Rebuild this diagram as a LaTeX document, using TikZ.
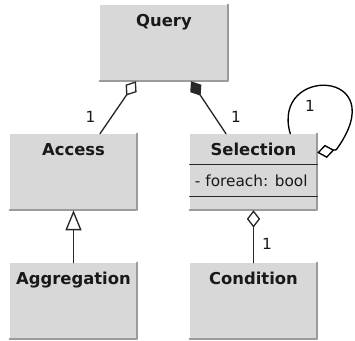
\documentclass[tikz,border=0pt]{standalone}
\usepackage{fontspec}
\setmainfont{DejaVu Sans}
\usetikzlibrary{arrows.meta,calc}
\definecolor{classfill}{RGB}{216,216,216}
\definecolor{classedge}{RGB}{155,155,155}
\definecolor{umlline}{RGB}{40,40,40}
\begin{document}
\begin{tikzpicture}[x=0.75pt,y=-0.75pt, line join = round, line cap = round,
  classbox/.style={fill=classfill, minimum width=95.25pt, minimum height=57pt, inner sep=0pt},
  classname/.style={anchor=base, inner sep=0pt, text=black!90, font=\fontsize{12.3}{14}\selectfont\bfseries},
  mult/.style={inner sep=0pt, text=black!90, font=\fontsize{11.5}{13}\selectfont},
  assoc/.style={draw=umlline, line width=1pt},
  hollowdiamond/.style={-{Diamond[open,length=13pt,width=10pt]}},
  fulldiamond/.style={-{Diamond[length=13pt,width=10pt]}}]
\useasboundingbox (0,0) rectangle (355,341);
% classes
\node[classbox, minimum width=96pt] (query) at (164,43) {};
\node[classbox] (access) at (73.5,172) {};
\node[classbox] (selection) at (253.5,172) {};
\node[classbox] (aggregation) at (73.5,301) {};
\node[classbox] (condition) at (253.5,301) {};
\foreach \c in {query,access,selection,aggregation,condition}
  \draw[classedge, line width=1.5pt] (\c.north east) -- (\c.south east) -- (\c.south west);
\node[classname] (queryname) at ($(query.north)+(0,22)$) {Query};
\node[classname] (accessname) at ($(access.north)+(0,21.5)$) {Access};
\node[classname] (selectionname) at ($(selection.north)+(0,21.5)$) {Selection};
\node[classname] (aggregationname) at ($(aggregation.north)+(0,21.5)$) {Aggregation};
\node[classname] (conditionname) at ($(condition.north)+(0,21.5)$) {Condition};
% attribute compartment of Selection
\draw[umlline, line width=1pt] ($(selection.north west)+(0,31)$) -- ($(selection.north east)+(0,31)$);
\draw[umlline, line width=1pt] ($(selection.north west)+(0,63)$) -- ($(selection.north east)+(0,63)$);
\node[mult, anchor=base west] (foreach) at ($(selection.north west)+(5,52.5)$) {- foreach: bool};
% relations
\draw[assoc, hollowdiamond] ($(access.north)+(26.5,0)$) -- ($(query.south)+(-28,0)$);
\draw[assoc, fulldiamond] ($(selection.north)+(-27.5,0)$) -- ($(query.south)+(27,0)$);
\draw[assoc, -{Triangle[open,length=15pt,width=12pt]}] (aggregation.north) -- (access.south);
\draw[assoc, hollowdiamond] (condition.north) -- (selection.south);
\draw[assoc, draw=black, {Diamond[open,length=13pt,width=10pt]}-] ($(selection.north east)+(0,19)$) -- ++(19,-3)
  .. controls +(59,-81) and +(-20,-69) .. ($(selection.north east)+(-27,0)$);
% multiplicities
\node[mult] (maccess) at (90.5,117) {1};
\node[mult] (mselection) at (236,117) {1};
\node[mult] (mloop) at (310,106) {1};
\node[mult] (mcondition) at (267,244) {1};
\end{tikzpicture}
\end{document}
